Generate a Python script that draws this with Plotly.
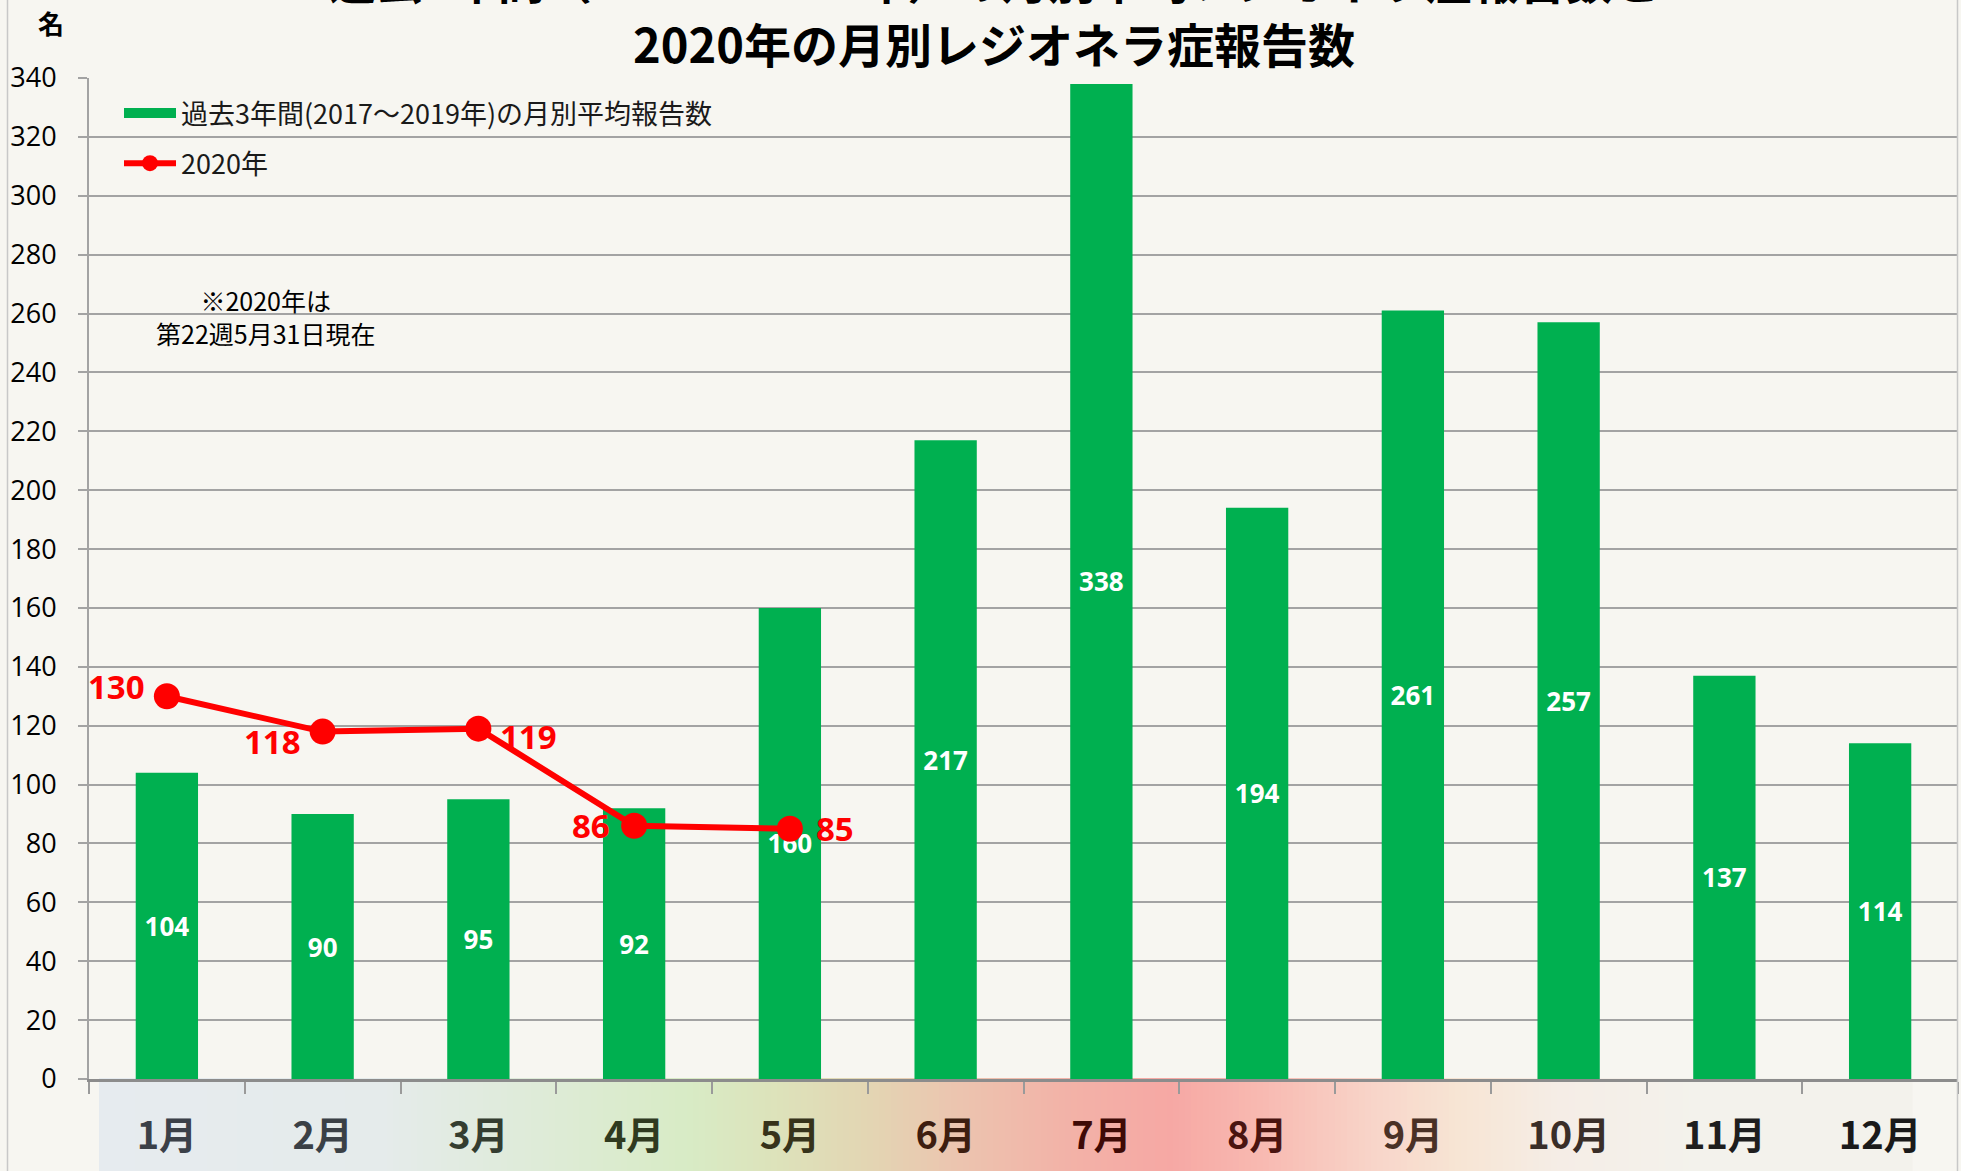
import plotly.graph_objects as go

# ---------------- data ----------------
months = ["1月", "2月", "3月", "4月", "5月", "6月", "7月", "8月", "9月", "10月", "11月", "12月"]
avg_2017_2019 = [104, 90, 95, 92, 160, 217, 338, 194, 261, 257, 137, 114]
months_2020 = ["1月", "2月", "3月", "4月", "5月"]
cases_2020 = [130, 118, 119, 86, 85]

name_avg = "過去3年間(2017〜2019年)の月別平均報告数"
name_2020 = "2020年"
title_line1 = "過去3年間（2017〜2019年）の月別平均レジオネラ症報告数と"
title_line2 = "2020年の月別レジオネラ症報告数"
note_text = "※2020年は<br>第22週5月31日現在"
y_unit = "名"

# ---------------- style ----------------
W, H = 1961, 1171
ML, MR, MT, MB = 89, 3, 78, 92
PW = W - ML - MR
PH = H - MT - MB
BG = "#F7F6F1"
GREEN = "#00B050"
RED = "#FF0000"
GRID = "#A3A3A3"
JP = "Noto Sans CJK JP"
NUM = "Open Sans"

month_colors = ["#3B4048", "#3A4046", "#343D30", "#2F3A1F", "#36331A", "#3D1E10",
                "#3F0A06", "#4A1410", "#4A3126", "#3A2E28", "#1E1E1E", "#1A1A1A"]
tick_text = [f'<span style="color:{c}">{m}</span>' for m, c in zip(months, month_colors)]

# red label placement: (xanchor, xshift, yshift) per point
label_place = [("right", -20, 10), ("right", -20, -10), ("left", 20, -8),
               ("right", -22, 0), ("left", 24, 0)]


def px_to_paper_x(px):
    return (px - ML) / PW


def px_to_paper_y(py):
    return (H - MB - py) / PH


fig = go.Figure()

fig.add_trace(go.Bar(
    x=months, y=avg_2017_2019, name=name_avg,
    marker=dict(color=GREEN, line=dict(width=0)),
    text=avg_2017_2019, textposition="inside", insidetextanchor="middle",
    textfont=dict(family=NUM, size=26, color="white", weight="bold"),
    textangle=0, showlegend=False,
))
# legend proxy for the bar series (wide swatch)
fig.add_trace(go.Scatter(
    x=[None], y=[None], mode="lines", name=name_avg,
    line=dict(color=GREEN, width=13), legendgroup="a", showlegend=True,
))
fig.add_trace(go.Scatter(
    x=months_2020, y=cases_2020, name=name_2020, mode="lines+markers",
    line=dict(color=RED, width=6), marker=dict(color=RED, size=26),
    legendgroup="b", cliponaxis=False,
))

# gradient band under the category axis
stops = [(99, "#E6EBEF"), (380, "#E5EBEB"), (520, "#DFEBDA"), (690, "#D8EBC5"),
         (780, "#DDE2BA"), (870, "#E3D5B3"), (960, "#ECC4AF"), (1060, "#F2B3A8"),
         (1170, "#F6A8A4"), (1260, "#F8B9B1"), (1380, "#F8D6CA"), (1460, "#F7E5D4"),
         (1560, "#F5EDE6"), (1700, "#F3F2EC"), (1912, "#F3F2EC")]


def hex2rgb(h):
    h = h.lstrip("#")
    return tuple(int(h[i:i + 2], 16) for i in (0, 2, 4))


def color_at(px):
    for (x0, c0), (x1, c1) in zip(stops[:-1], stops[1:]):
        if x0 <= px <= x1:
            t = (px - x0) / (x1 - x0)
            a, b = hex2rgb(c0), hex2rgb(c1)
            return "rgb({},{},{})".format(*[round(a[i] + (b[i] - a[i]) * t) for i in range(3)])
    return stops[-1][1]


shapes = []
step = 6
x = stops[0][0]
while x < stops[-1][0]:
    x2 = min(x + step, stops[-1][0])
    shapes.append(dict(type="rect", xref="paper", yref="paper",
                       x0=px_to_paper_x(x), x1=px_to_paper_x(x2 + 0.6),
                       y0=px_to_paper_y(H), y1=px_to_paper_y(1078),
                       fillcolor=color_at((x + x2) / 2), line=dict(width=0), layer="below"))
    x = x2
# outer chart borders
for bx in (7.5, 1957.5):
    shapes.append(dict(type="line", xref="paper", yref="paper",
                       x0=px_to_paper_x(bx), x1=px_to_paper_x(bx),
                       y0=px_to_paper_y(H), y1=px_to_paper_y(0),
                       line=dict(color="#C8C8C8", width=1.5), layer="above"))

annotations = [
    dict(text=title_line1, xref="paper", yref="paper",
         x=px_to_paper_x(994), y=px_to_paper_y(-22), xanchor="center", yanchor="middle",
         showarrow=False, font=dict(family=JP, size=47, color="black", weight="bold")),
    dict(text=title_line2, xref="paper", yref="paper",
         x=px_to_paper_x(994), y=px_to_paper_y(42), xanchor="center", yanchor="middle",
         showarrow=False, font=dict(family=JP, size=47, color="black", weight="bold")),
    dict(text=y_unit, xref="paper", yref="paper",
         x=px_to_paper_x(51), y=px_to_paper_y(23), xanchor="center", yanchor="middle",
         showarrow=False, font=dict(family=JP, size=26, color="black", weight="bold")),
    dict(text=note_text, xref="paper", yref="paper",
         x=px_to_paper_x(265), y=px_to_paper_y(316), xanchor="center", yanchor="middle",
         align="center", showarrow=False, font=dict(family=JP, size=25, color="black")),
]
for m, v, (xa, xs, ys) in zip(months_2020, cases_2020, label_place):
    annotations.append(dict(
        text=str(v), x=m, y=v, xref="x", yref="y", xanchor=xa, yanchor="middle",
        xshift=xs, yshift=ys, showarrow=False,
        font=dict(family=NUM, size=33, color=RED, weight="bold")))

fig.update_layout(
    width=W, height=H,
    margin=dict(l=ML, r=MR, t=MT, b=MB, pad=0),
    paper_bgcolor=BG, plot_bgcolor=BG,
    bargap=0.6,
    shapes=shapes, annotations=annotations,
    showlegend=True,
    legend=dict(x=px_to_paper_x(119), y=px_to_paper_y(89), xanchor="left", yanchor="top",
                bgcolor="rgba(0,0,0,0)", traceorder="grouped", tracegroupgap=12,
                itemwidth=52, font=dict(family=JP, size=27, color="#1A1A1A")),
    xaxis=dict(
        type="category", categoryorder="array", categoryarray=months,
        tickmode="array", tickvals=months, ticktext=tick_text,
        showgrid=False, showline=True, linecolor="#8C8C8C", linewidth=2.5,
        ticks="outside", tickson="boundaries", ticklen=12, tickcolor="#9A9A9A", tickwidth=1.5,
        tickfont=dict(family=JP, size=38, weight="bold"), ticklabelstandoff=22,
        range=[-0.5, 11.5], zeroline=False,
    ),
    yaxis=dict(
        range=[0, 340], dtick=20, tick0=0,
        showgrid=True, gridcolor=GRID, gridwidth=2,
        showline=True, linecolor=GRID, linewidth=2,
        ticks="outside", ticklen=9, tickcolor=GRID, tickwidth=2,
        tickfont=dict(family=NUM, size=27, color="black"), ticklabelstandoff=16,
        zeroline=False,
    ),
)

fig.write_html(
    "out.html",
    config={"displayModeBar": False},
    post_script="document.body.style.margin='0';document.body.style.background='#F7F6F1';",
)
